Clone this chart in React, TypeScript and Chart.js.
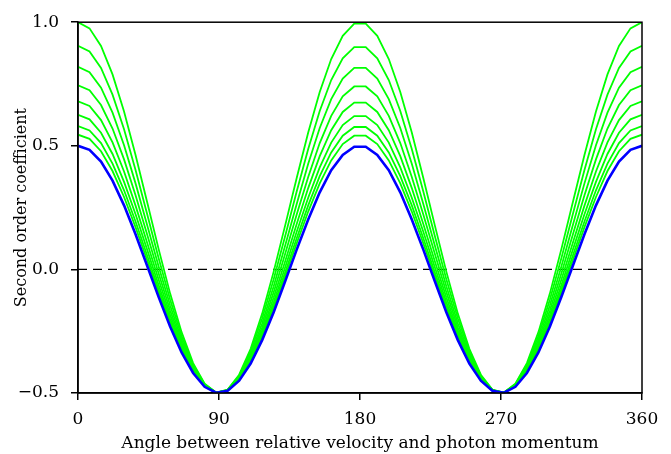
import React, { useEffect, useRef } from "react";
import { Chart, registerables } from "chart.js";
Chart.register(...registerables);

const angles = [0, 7.35, 14.69, 22.04, 29.39, 36.73, 44.08, 51.43, 58.78, 66.12, 73.47, 80.82, 88.16, 95.51, 102.86, 110.2, 117.55, 124.9, 132.24, 139.59, 146.94, 154.29, 161.63, 168.98, 176.33, 183.67, 191.02, 198.37, 205.71, 213.06, 220.41, 227.76, 235.1, 242.45, 249.8, 257.14, 264.49, 271.84, 279.18, 286.53, 293.88, 301.22, 308.57, 315.92, 323.27, 330.61, 337.96, 345.31, 352.65, 360];

const green1 = [1.0, 0.975, 0.904, 0.789, 0.639, 0.463, 0.274, 0.083, -0.097, -0.254, -0.379, -0.462, -0.498, -0.486, -0.426, -0.321, -0.179, -0.009, 0.178, 0.37, 0.554, 0.718, 0.851, 0.945, 0.994, 0.994, 0.945, 0.851, 0.718, 0.554, 0.37, 0.178, -0.009, -0.179, -0.321, -0.426, -0.486, -0.498, -0.462, -0.379, -0.254, -0.097, 0.083, 0.274, 0.463, 0.639, 0.789, 0.904, 0.975, 1.0];
const green2 = [0.905, 0.882, 0.815, 0.707, 0.567, 0.402, 0.225, 0.046, -0.122, -0.27, -0.386, -0.464, -0.499, -0.487, -0.43, -0.332, -0.199, -0.04, 0.135, 0.315, 0.487, 0.641, 0.766, 0.854, 0.899, 0.899, 0.854, 0.766, 0.641, 0.487, 0.315, 0.135, -0.04, -0.199, -0.332, -0.43, -0.487, -0.499, -0.464, -0.386, -0.27, -0.122, 0.046, 0.225, 0.402, 0.567, 0.707, 0.815, 0.882, 0.905];
const green3 = [0.82, 0.798, 0.735, 0.634, 0.502, 0.348, 0.181, 0.013, -0.145, -0.284, -0.393, -0.466, -0.499, -0.488, -0.435, -0.343, -0.218, -0.068, 0.097, 0.265, 0.427, 0.572, 0.689, 0.772, 0.815, 0.815, 0.772, 0.689, 0.572, 0.427, 0.265, 0.097, -0.068, -0.218, -0.343, -0.435, -0.488, -0.499, -0.466, -0.393, -0.284, -0.145, 0.013, 0.181, 0.348, 0.502, 0.634, 0.735, 0.798, 0.82];
const green4 = [0.745, 0.725, 0.665, 0.57, 0.445, 0.3, 0.142, -0.016, -0.165, -0.296, -0.399, -0.468, -0.499, -0.489, -0.438, -0.351, -0.234, -0.092, 0.063, 0.222, 0.374, 0.511, 0.621, 0.7, 0.74, 0.74, 0.7, 0.621, 0.511, 0.374, 0.222, 0.063, -0.092, -0.234, -0.351, -0.438, -0.489, -0.499, -0.468, -0.399, -0.296, -0.165, -0.016, 0.142, 0.3, 0.445, 0.57, 0.665, 0.725, 0.745];
const green5 = [0.68, 0.661, 0.604, 0.514, 0.396, 0.258, 0.109, -0.041, -0.183, -0.307, -0.404, -0.47, -0.499, -0.489, -0.442, -0.359, -0.248, -0.114, 0.033, 0.184, 0.329, 0.458, 0.563, 0.637, 0.675, 0.675, 0.637, 0.563, 0.458, 0.329, 0.184, 0.033, -0.114, -0.248, -0.359, -0.442, -0.489, -0.499, -0.47, -0.404, -0.307, -0.183, -0.041, 0.109, 0.258, 0.396, 0.514, 0.604, 0.661, 0.68];
const green6 = [0.625, 0.607, 0.553, 0.467, 0.354, 0.223, 0.081, -0.063, -0.198, -0.316, -0.409, -0.471, -0.499, -0.49, -0.444, -0.366, -0.259, -0.132, 0.009, 0.152, 0.29, 0.413, 0.513, 0.584, 0.62, 0.62, 0.584, 0.513, 0.413, 0.29, 0.152, 0.009, -0.132, -0.259, -0.366, -0.444, -0.49, -0.499, -0.471, -0.409, -0.316, -0.198, -0.063, 0.081, 0.223, 0.354, 0.467, 0.553, 0.607, 0.625];
const green7 = [0.58, 0.562, 0.511, 0.428, 0.32, 0.194, 0.057, -0.08, -0.21, -0.323, -0.413, -0.472, -0.499, -0.49, -0.447, -0.371, -0.269, -0.146, -0.012, 0.126, 0.259, 0.377, 0.473, 0.541, 0.576, 0.576, 0.541, 0.473, 0.377, 0.259, 0.126, -0.012, -0.146, -0.269, -0.371, -0.447, -0.49, -0.499, -0.472, -0.413, -0.323, -0.21, -0.08, 0.057, 0.194, 0.32, 0.428, 0.511, 0.562, 0.58];
const green8 = [0.545, 0.528, 0.478, 0.398, 0.293, 0.171, 0.039, -0.094, -0.219, -0.329, -0.415, -0.473, -0.499, -0.49, -0.448, -0.375, -0.276, -0.158, -0.028, 0.106, 0.234, 0.348, 0.441, 0.507, 0.541, 0.541, 0.507, 0.441, 0.348, 0.234, 0.106, -0.028, -0.158, -0.276, -0.375, -0.448, -0.49, -0.499, -0.473, -0.415, -0.329, -0.219, -0.094, 0.039, 0.171, 0.293, 0.398, 0.478, 0.528, 0.545];
const blueCurve = [0.5, 0.484, 0.436, 0.359, 0.259, 0.142, 0.016, -0.111, -0.231, -0.336, -0.419, -0.475, -0.499, -0.491, -0.45, -0.381, -0.286, -0.173, -0.048, 0.08, 0.202, 0.312, 0.401, 0.463, 0.496, 0.496, 0.463, 0.401, 0.312, 0.202, 0.08, -0.048, -0.173, -0.286, -0.381, -0.45, -0.491, -0.499, -0.475, -0.419, -0.336, -0.231, -0.111, 0.016, 0.142, 0.259, 0.359, 0.436, 0.484, 0.5];

const greenCurves = [green1, green2, green3, green4, green5, green6, green7, green8];
const referenceX = [0, 360];
const referenceY = [0, 0];
const xTickValues = [0, 90, 180, 270, 360];
const yTickValues = [-0.5, 0, 0.5, 1.0];

const FONT = "'DejaVu Serif', serif";

const framePlugin = {
  id: "frame",
  afterDatasetsDraw(chart: any) {
    const { ctx, chartArea } = chart;
    const { left, top, right, bottom } = chartArea;
    ctx.save();
    ctx.strokeStyle = "#000";
    ctx.lineWidth = 1.5;
    ctx.strokeRect(left, top, right - left, bottom - top);
    ctx.restore();
  },
};

function toPoints(xs: number[], ys: number[]) {
  return xs.map((x, i) => ({ x, y: ys[i] }));
}

export default function App() {
  const ref = useRef<HTMLCanvasElement | null>(null);
  useEffect(() => {
    if (!ref.current) return;
    const datasets: any[] = [];
    datasets.push({
      data: toPoints(angles, blueCurve),
      borderColor: "#0000ff",
      borderWidth: 2.6,
      pointRadius: 0,
      tension: 0,
      order: 0,
    });
    greenCurves.forEach((c, i) => {
      datasets.push({
        data: toPoints(angles, c),
        borderColor: "#00ff00",
        borderWidth: 1.8,
        pointRadius: 0,
        tension: 0,
        order: 1 + i,
      });
    });
    datasets.push({
      data: toPoints(referenceX, referenceY),
      borderColor: "#000",
      borderWidth: 1.2,
      borderDash: [9, 6],
      pointRadius: 0,
      order: 20,
    });
    const chart = new Chart(ref.current, {
      type: "line",
      data: { datasets },
      plugins: [framePlugin],
      options: {
        animation: false,
        responsive: false,
        layout: { padding: { top: 18, right: 29, left: 0, bottom: 0 } },
        plugins: { legend: { display: false }, tooltip: { enabled: false } },
        scales: {
          x: {
            type: "linear",
            min: 0,
            max: 360,
            afterBuildTicks: (s: any) => {
              s.ticks = xTickValues.map((v) => ({ value: v }));
            },
            afterFit: (s: any) => {
              s.height = 61;
            },
            grid: { drawOnChartArea: false, drawTicks: true, tickLength: 7, color: "#000", lineWidth: 1.5 },
            border: { display: true, color: "#000", width: 1.5 },
            ticks: { color: "#000", font: { family: FONT, size: 17 }, padding: 9, maxRotation: 0 },
            title: {
              display: true,
              text: "Angle between relative velocity and photon momentum",
              color: "#000",
              font: { family: FONT, size: 17 },
              padding: { top: 0, bottom: 0 },
            },
          },
          y: {
            type: "linear",
            min: -0.5,
            max: 1.0,
            afterBuildTicks: (s: any) => {
              s.ticks = yTickValues.map((v) => ({ value: v }));
            },
            afterFit: (s: any) => {
              s.width = 78;
            },
            grid: { drawOnChartArea: false, drawTicks: true, tickLength: 7, color: "#000", lineWidth: 1.5 },
            border: { display: true, color: "#000", width: 1.5 },
            ticks: {
              color: "#000",
              font: { family: FONT, size: 17 },
              padding: 12,
              callback: (v: any) => (v < 0 ? "\u2212" + Math.abs(v).toFixed(1) : Number(v).toFixed(1)),
            },
            title: {
              display: true,
              text: "Second order coefficient",
              color: "#000",
              font: { family: FONT, size: 16 },
              padding: { top: 12, bottom: 0 },
            },
          },
        },
      },
    } as any);
    return () => chart.destroy();
  }, []);
  return (
    <div style={{ position: "absolute", left: 0, top: 0, width: 671, height: 454, background: "#fff" }}>
      <canvas ref={ref} width={671} height={454} style={{ display: "block" }} />
    </div>
  );
}
